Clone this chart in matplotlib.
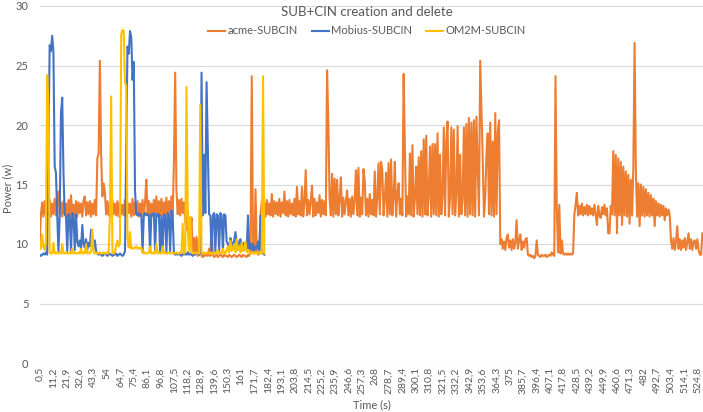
import numpy as np
import matplotlib
matplotlib.use("Agg")
import matplotlib.pyplot as plt

# power readings (W), one sample per second starting at 0.5 s
acme = [
    10.0, 12.4, 13.5, 12.3, 13.6, 12.5, 13.2, 12.4, 13.7, 12.3,
    13.4, 12.5, 13.8, 12.4, 13.3, 14.4, 12.6, 13.5, 12.3, 13.6,
    12.5, 13.4, 12.3, 13.7, 12.4, 14.1, 12.5, 13.3, 12.4, 13.6,
    12.3, 13.5, 12.6, 13.4, 12.3, 13.7, 14.0, 12.4, 13.5, 12.5,
    13.6, 12.3, 13.4, 12.5, 13.7, 12.4, 17.2, 17.6, 25.4, 17.5,
    14.0, 15.1, 14.3, 12.5, 13.6, 12.4, 13.5, 12.3, 13.7, 12.5,
    13.4, 12.4, 13.6, 12.3, 13.5, 12.5, 13.3, 12.4, 13.7, 12.3,
    13.5, 12.6, 13.4, 12.3, 13.8, 12.4, 13.5, 12.5, 13.6, 12.3,
    13.4, 12.5, 13.7, 12.4, 13.5, 15.4, 12.5, 13.6, 12.3, 13.4,
    12.4, 13.7, 12.5, 14.0, 12.3, 13.6, 12.4, 13.8, 12.5, 13.5,
    12.3, 13.9, 12.4, 13.6, 12.5, 14.0, 12.4, 17.0, 24.4, 14.5,
    12.5, 13.7, 12.4, 13.8, 12.6, 13.5, 12.0, 11.2, 12.8, 9.6,
    11.0, 12.2, 9.3, 10.5, 9.1, 10.6, 9.0, 9.1, 10.3, 9.0,
    8.9, 9.1, 9.0, 9.2, 9.0, 9.6, 9.0, 11.5, 9.1, 8.9,
    9.0, 9.1, 8.9, 9.0, 9.2, 9.0, 8.9, 9.1, 9.0, 9.0,
    8.9, 9.1, 9.0, 8.9, 9.0, 9.1, 9.0, 8.9, 9.0, 9.1,
    9.0, 8.9, 9.1, 9.0, 9.0, 8.9, 9.1, 9.0, 9.4, 24.1,
    9.5, 9.2, 14.6, 9.4, 9.1, 9.2, 12.5, 13.6, 12.4, 13.5,
    12.3, 13.7, 12.5, 13.4, 12.4, 14.2, 12.3, 13.6, 12.5, 13.5,
    12.4, 13.8, 12.3, 13.5, 12.6, 14.4, 12.4, 13.6, 12.3, 13.7,
    12.5, 13.4, 12.4, 13.8, 12.3, 14.8, 12.5, 13.6, 12.4, 14.8,
    12.3, 13.5, 16.2, 12.4, 13.7, 12.5, 13.6, 14.9, 12.3, 13.8,
    12.4, 13.5, 12.6, 14.1, 12.3, 13.7, 12.5, 13.6, 12.4, 24.6,
    20.2, 13.8, 12.4, 15.9, 12.3, 15.5, 12.5, 15.4, 12.4, 13.7,
    15.6, 12.3, 13.9, 12.5, 13.6, 14.5, 12.4, 13.8, 12.3, 14.0,
    12.5, 13.7, 16.2, 12.4, 16.4, 12.3, 13.9, 12.5, 16.3, 15.3,
    12.4, 13.8, 12.3, 14.2, 12.5, 13.7, 12.4, 16.1, 12.3, 13.9,
    16.8, 12.5, 16.9, 16.2, 12.4, 13.8, 16.0, 12.3, 16.8, 12.5,
    17.1, 12.4, 13.9, 16.9, 12.3, 14.2, 15.1, 12.5, 13.8, 12.4,
    24.3, 17.8, 12.3, 14.0, 12.5, 17.6, 12.4, 18.3, 12.3, 13.9,
    16.5, 12.5, 17.3, 12.4, 17.8, 12.3, 18.8, 12.5, 19.1, 12.4,
    14.1, 18.2, 12.3, 18.4, 12.5, 18.4, 12.4, 19.3, 12.3, 17.5,
    12.5, 14.0, 19.8, 12.4, 18.6, 20.3, 12.3, 13.9, 19.8, 12.5,
    19.6, 12.4, 14.2, 19.9, 12.3, 17.5, 12.5, 13.8, 19.8, 12.4,
    20.1, 12.3, 20.6, 12.5, 20.2, 12.4, 20.4, 12.3, 20.7, 16.5,
    12.4, 25.4, 21.4, 17.2, 12.3, 13.9, 17.6, 19.3, 12.5, 20.2,
    12.4, 18.6, 12.3, 21.0, 12.5, 19.4, 20.4, 10.0, 10.4, 9.6,
    10.2, 9.5, 10.5, 10.8, 9.7, 10.3, 9.5, 10.4, 9.6, 10.1,
    12.0, 9.6, 10.3, 10.8, 9.5, 10.2, 9.7, 10.4, 10.5, 9.1,
    9.0, 9.1, 8.9, 9.0, 8.8, 9.0, 10.3, 9.1, 9.0, 8.9,
    9.1, 9.0, 9.0, 9.1, 8.9, 9.0, 9.1, 9.0, 9.3, 9.1,
    9.0, 24.1, 13.0, 9.3, 13.3, 9.2, 10.3, 9.2, 9.1, 9.2,
    9.1, 9.2, 9.1, 9.2, 9.1, 9.2, 12.5, 13.3, 14.3, 12.4,
    13.2, 12.5, 13.4, 12.4, 13.1, 12.5, 13.3, 12.4, 13.2, 12.5,
    13.0, 12.4, 13.3, 12.5, 11.6, 13.2, 12.4, 12.2, 13.1, 12.5,
    13.3, 12.4, 13.0, 10.9, 10.9, 13.2, 12.5, 17.8, 12.4, 17.5,
    10.9, 17.2, 12.4, 16.9, 11.6, 16.5, 12.4, 16.1, 12.3, 15.8,
    11.7, 15.4, 12.4, 16.4, 26.9, 16.2, 12.3, 15.1, 11.5, 15.0,
    12.4, 14.8, 12.3, 14.6, 12.4, 14.3, 12.3, 14.1, 12.4, 13.8,
    11.5, 13.6, 12.4, 13.4, 12.3, 13.3, 12.4, 13.2, 12.0, 13.0,
    12.4, 12.9, 12.4, 10.3, 9.6, 10.5, 9.5, 10.2, 11.5, 9.6,
    10.4, 9.5, 10.3, 9.7, 10.5, 9.5, 10.2, 10.9, 9.6, 10.4,
    9.5, 10.2, 10.3, 9.6, 10.4, 9.5, 9.1, 9.1, 10.9,
]

mobius = [
    9.1, 9.0, 9.1, 9.2, 9.1, 9.3, 9.1, 18.0, 26.7, 26.2,
    27.5, 26.1, 16.5, 16.0, 12.5, 9.4, 12.4, 21.0, 22.3, 16.0,
    12.5, 12.3, 9.4, 12.5, 12.4, 9.3, 12.6, 12.4, 9.5, 12.5,
    10.2, 9.8, 10.3, 9.6, 11.6, 10.0, 9.7, 10.4, 9.5, 10.1,
    9.8, 11.2, 10.0, 9.6, 10.3, 9.4, 9.2, 9.1, 9.2, 9.1,
    9.0, 9.1, 9.2, 9.1, 9.0, 9.1, 9.2, 9.1, 9.0, 9.1,
    9.1, 9.2, 9.0, 9.1, 9.2, 9.1, 9.0, 9.1, 9.4, 18.0,
    26.6, 26.0, 27.9, 27.4, 23.8, 25.3, 14.5, 12.5, 12.4, 12.6,
    12.4, 12.5, 9.3, 12.4, 12.6, 12.4, 12.5, 12.4, 9.3, 12.5,
    12.4, 12.6, 9.4, 12.5, 12.4, 12.5, 9.3, 12.4, 9.4, 12.5,
    12.4, 9.3, 12.6, 12.4, 9.4, 12.8, 12.3, 9.2, 9.1, 9.2,
    9.1, 9.2, 9.1, 9.0, 9.2, 9.1, 9.2, 9.1, 9.3, 9.1,
    9.2, 9.1, 9.0, 9.2, 9.1, 9.3, 9.2, 9.1, 9.4, 24.4,
    12.4, 17.5, 12.6, 23.6, 17.8, 12.5, 12.4, 9.3, 12.4, 12.6,
    9.3, 12.5, 12.4, 9.4, 12.6, 12.4, 9.3, 12.5, 12.4, 10.2,
    10.0, 9.7, 10.5, 10.1, 9.6, 10.3, 11.0, 10.0, 9.5, 10.2,
    10.4, 9.7, 10.1, 9.5, 10.0, 9.6, 12.4, 9.6, 10.1, 9.5,
    10.0, 9.4, 9.8, 9.6, 10.2, 9.5, 12.4, 9.4, 9.2, 9.1,
]

om2m = [
    10.2, 9.6, 10.8, 9.8, 9.5, 10.1, 24.2, 21.6, 9.3, 9.2,
    9.2, 10.1, 9.2, 9.3, 9.2, 9.2, 9.3, 9.2, 10.0, 9.2,
    9.2, 9.3, 9.2, 9.2, 9.3, 9.2, 9.6, 9.2, 9.3, 9.2,
    9.2, 9.3, 9.2, 9.6, 9.2, 9.3, 9.2, 10.0, 9.2, 9.3,
    9.2, 9.4, 11.2, 9.3, 9.2, 9.3, 9.2, 9.2, 9.3, 9.2,
    9.2, 9.3, 9.2, 9.2, 9.3, 9.2, 12.5, 22.4, 9.3, 9.2,
    9.3, 9.9, 10.3, 9.8, 10.1, 27.6, 28.0, 27.9, 23.6, 23.3,
    10.5, 9.7, 11.0, 9.6, 9.7, 9.6, 9.7, 9.8, 9.6, 9.7,
    9.6, 9.7, 9.3, 9.2, 9.3, 9.2, 9.2, 9.3, 9.8, 9.2,
    9.2, 9.3, 9.2, 10.0, 9.2, 9.3, 9.2, 9.2, 9.8, 9.2,
    9.3, 9.2, 9.2, 9.3, 9.2, 9.2, 9.3, 9.2, 9.2, 9.3,
    9.2, 9.2, 9.3, 9.2, 11.7, 9.2, 9.3, 23.2, 12.9, 9.4,
    12.3, 9.3, 9.2, 9.3, 9.2, 9.3, 9.2, 9.2, 21.7, 9.3,
    9.2, 9.3, 9.2, 9.2, 9.3, 9.2, 9.2, 9.3, 9.2, 9.2,
    9.3, 9.2, 9.5, 9.2, 9.3, 9.2, 9.6, 9.3, 9.2, 9.5,
    9.8, 9.3, 10.3, 9.4, 9.7, 10.0, 9.3, 10.4, 9.5, 9.8,
    9.3, 10.1, 9.4, 9.6, 10.2, 9.3, 9.5, 9.3, 9.2, 9.3,
    9.2, 9.3, 9.2, 9.3, 9.2, 9.3, 9.2, 9.2, 24.1, 9.2,
]

t_acme = 0.5 + np.arange(len(acme))
t_mob = 0.5 + np.arange(len(mobius))
t_om2m = 0.5 + np.arange(len(om2m))

tick_pos = [round(0.5 + 10.7 * k, 1) for k in range(50)]


def fmt(v):
    s = f"{v:.1f}"
    if s.endswith(".0"):
        s = s[:-2]
    return s.replace(".", ",")


tick_labels = [fmt(v) for v in tick_pos]

grey = "#595959"
plt.rcParams["font.family"] = ["Lato", "DejaVu Sans"]

fig = plt.figure(figsize=(7.03, 4.12), dpi=100)
ax = fig.add_axes([39.5 / 703, 49 / 412, 663.5 / 703, 357 / 412])

ax.plot(t_acme, acme, color="#ED7D31", lw=1.5, label="acme-SUBCIN")
ax.plot(t_mob, mobius, color="#4472C4", lw=1.5, label="Mobius-SUBCIN")
ax.plot(t_om2m, om2m, color="#FFC000", lw=1.5, label="OM2M-SUBCIN")

ax.set_xlim(0.4, 529.0)
ax.set_ylim(0, 30)
ax.set_yticks([0, 5, 10, 15, 20, 25, 30])
ax.set_xticks(tick_pos)
ax.set_xticklabels(tick_labels, rotation=90)
ax.tick_params(axis="x", length=0, pad=3, labelsize=7.5, labelcolor=grey)
ax.tick_params(axis="y", length=0, pad=8, labelsize=8, labelcolor=grey)
ax.grid(axis="y", color="#d9d9d9", lw=0.8)
ax.set_axisbelow(True)
for s in ax.spines.values():
    s.set_visible(False)

fig.text(367 / 703, 1 - 12 / 412, "SUB+CIN creation and delete", ha="center",
         va="center", fontsize=9.5, color=grey)
fig.text(8 / 703, 1 - 188 / 412, "Power (w)", rotation=90, ha="center",
         va="center", fontsize=8, color=grey)
fig.text(372 / 703, 1 - 405 / 412, "Time (s)", ha="center", va="center",
         fontsize=8, color=grey)

leg = fig.legend(loc="center", bbox_to_anchor=(367 / 703, 1 - 31 / 412), ncol=3,
                 frameon=False, fontsize=8, handlelength=1.5, handletextpad=0.2,
                 columnspacing=1.3)
for txt in leg.get_texts():
    txt.set_color(grey)

fig.savefig("out.png", dpi=100)
